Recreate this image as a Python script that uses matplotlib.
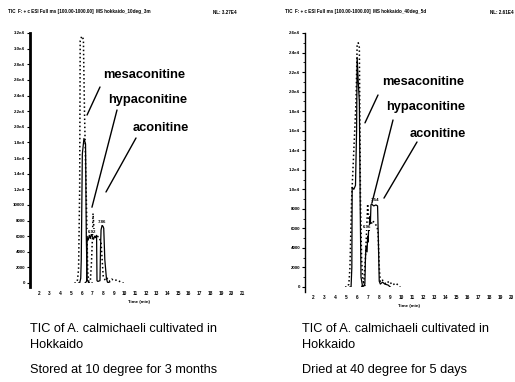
import matplotlib
matplotlib.use('Agg')
import matplotlib.pyplot as plt

plt.rcParams['font.family'] = ['Liberation Sans', 'DejaVu Sans']

W, H = 515, 382

# ---- left chromatogram (stored at 10 degree for 3 months) ----
left_dot1_t = [5.3, 5.45, 5.6, 5.7, 5.8, 5.85, 6.0, 6.15, 6.25, 6.45, 6.55, 6.65, 7.0]
left_dot1_v = [0, 0, 400, 1800, 12000, 31000, 31600, 31200, 22000, 9000, 1500, 200, 0]
left_sol1_t = [5.7, 5.8, 5.9, 5.95, 6.05, 6.2, 6.35, 6.42, 6.5, 6.7]
left_sol1_v = [0, 0, 600, 3000, 16500, 18500, 17800, 6000, 400, 0]
left_dot2_t = [6.6, 6.8, 6.9, 7.0, 7.05, 7.1, 7.15, 7.2, 7.3, 7.4, 7.6, 7.8, 8.0, 8.2,
               8.4, 8.6, 8.8, 9.0, 9.3, 9.6, 9.9]
left_dot2_v = [0, 300, 2500, 6000, 8900, 7800, 6500, 6200, 5800, 6000, 5900, 5200, 900, 300,
               600, 200, 500, 300, 400, 150, 0]
left_sol2_t = [6.3, 6.45, 6.5, 6.6, 6.7, 6.8, 6.9, 7.0, 7.1, 7.2, 7.3, 7.38, 7.42, 7.5,
               7.7, 7.75, 7.8, 7.9, 8.0, 8.05, 8.15, 8.3, 8.4, 8.6]
left_sol2_v = [0, 200, 5800, 5500, 6100, 5700, 6300, 5900, 5600, 6000, 5800, 6100, 300, 200,
               300, 4500, 6800, 7400, 7200, 7000, 3000, 600, 100, 0]
left_rt_labels = [(6.92, 6300, '6.92'), (7.93, 7500, '7.86')]

# ---- right chromatogram (dried at 40 degree for 5 days) ----
right_dot1_t = [4.9, 5.1, 5.25, 5.35, 5.5, 5.7, 5.9, 6.0, 6.1, 6.2, 6.3, 6.4, 6.5, 6.6, 6.8]
right_dot1_v = [0, 0, 300, 2000, 9000, 14000, 19000, 24800, 25000, 24500, 9000, 3000, 900, 300, 0]
right_sol1_t = [5.35, 5.45, 5.52, 5.55, 5.7, 5.85, 5.95, 6.0, 6.1, 6.2, 6.28, 6.35, 6.5]
right_sol1_v = [0, 0, 2000, 10200, 10000, 10400, 16000, 23500, 21000, 19000, 8000, 1000, 0]
right_dot2_t = [6.4, 6.6, 6.75, 6.85, 6.95, 7.05, 7.2, 7.4, 7.6, 7.8, 7.9, 8.0, 8.1, 8.3,
                8.6, 8.9, 9.2, 9.5, 9.9]
right_dot2_v = [0, 400, 3000, 5500, 8500, 7000, 6200, 6800, 6500, 6200, 5500, 2000, 500, 700,
                300, 600, 200, 400, 0]
right_sol2_t = [6.5, 6.7, 6.75, 6.8, 6.9, 6.95, 7.0, 7.05, 7.1, 7.15, 7.2, 7.25, 7.3, 7.5,
                7.7, 7.85, 7.9, 8.0, 8.1, 8.3, 8.5, 8.8, 9.0]
right_sol2_v = [0, 300, 2800, 4200, 3600, 5200, 4600, 6300, 5800, 7200, 6500, 8400, 8500, 8300,
                8400, 8300, 5900, 600, 300, 500, 300, 200, 0]
right_rt_labels = [(6.93, 5900, '6.96'), (7.6, 8700, '7.54')]

left_yticks = list(range(0, 32001, 2000))
left_ylabels = ['0', '2000', '4000', '6000', '8000', '10000', '1.2e4', '1.4e4', '1.6e4',
                '1.8e4', '2.0e4', '2.2e4', '2.4e4', '2.6e4', '2.8e4', '3.0e4', '3.2e4']
right_yticks = list(range(0, 26001, 2000))
right_ylabels = ['0', '2000', '4000', '6000', '8000', '1.0e4', '1.2e4', '1.4e4', '1.6e4',
                 '1.8e4', '2.0e4', '2.2e4', '2.4e4', '2.6e4']
left_xticks = list(range(2, 22))
right_xticks = list(range(2, 21))

compounds = ['mesaconitine', 'hypaconitine', 'aconitine']
# (tip time, tip intensity) of the leader lines
left_tips = [(6.49, 21500), (6.95, 9700), (8.26, 11650)]
right_tips = [(6.71, 16800), (7.34, 8600), (8.43, 9100)]

captions_left = ['TIC of A. calmichaeli cultivated in', 'Hokkaido', 'Stored at 10 degree for 3 months']
captions_right = ['TIC of A. calmichaeli cultivated in', 'Hokkaido', 'Dried at 40 degree for 5 days']
header_left = ['TIC  F: + c ESI Full ms [100.00-1000.00]  MS hokkaido_10deg_3m', 'NL: 3.27E4']
header_right = ['TIC  F: + c ESI Full ms [100.00-1000.00]  MS hokkaido_40deg_5d', 'NL: 2.61E4']


def px_axes(fig, x0, y0, x1, y1):
    # image pixel box (top-left origin) -> figure fraction
    return fig.add_axes([x0 / W, 1 - y1 / H, (x1 - x0) / W, (y1 - y0) / H])


def draw_panel(ax, traces, yticks, ylabels, xticks, xlim, ylim, spine_lw, minor):
    for t, v, ls in traces:
        ax.plot(t, v, color='black', lw=0.9 if ls == '-' else 1.1, linestyle=ls)
    ax.set_xlim(*xlim)
    ax.set_ylim(*ylim)
    for s in ['top', 'right', 'bottom']:
        ax.spines[s].set_visible(False)
    ax.spines['left'].set_linewidth(spine_lw)
    ax.spines['left'].set_bounds(-500, ylim[1])
    ax.set_yticks(yticks)
    ax.set_yticklabels(ylabels, fontsize=3.2, fontweight='bold')
    ax.set_xticks(xticks)
    ax.set_xticklabels([str(x) for x in xticks], fontsize=3.4, fontweight='bold')
    ax.tick_params(axis='y', length=2, width=0.8, pad=1.5)
    ax.tick_params(axis='x', length=0, pad=6)
    if minor:
        ax.set_yticks([y + 1000 for y in yticks[:-1]], minor=True)
        ax.tick_params(axis='y', which='minor', length=1.5, width=0.6)
    ax.set_xlabel('Time (min)', fontsize=3.2, fontweight='bold', labelpad=3)
    ax.patch.set_alpha(0)


fig = plt.figure(figsize=(W / 100, H / 100), dpi=100)

axL = px_axes(fig, 30, 33, 248, 283)
draw_panel(axL, [(left_dot1_t, left_dot1_v, ':'), (left_sol1_t, left_sol1_v, '-'),
                 (left_dot2_t, left_dot2_v, ':'), (left_sol2_t, left_sol2_v, '-')],
           left_yticks, left_ylabels, left_xticks, (1.16, 21.53), (0, 32000), 2.0, False)

axR = px_axes(fig, 305, 33, 514, 287)
draw_panel(axR, [(right_dot1_t, right_dot1_v, ':'), (right_sol1_t, right_sol1_v, '-'),
                 (right_dot2_t, right_dot2_v, ':'), (right_sol2_t, right_sol2_v, '-')],
           right_yticks, right_ylabels, right_xticks, (1.28, 20.2), (0, 26000), 1.0, True)

for ax, labels in [(axL, left_rt_labels), (axR, right_rt_labels)]:
    for t, v, s in labels:
        ax.text(t, v, s, fontsize=3.2, fontweight='bold', ha='center', va='bottom',
                bbox=dict(facecolor='white', edgecolor='none', pad=0.3))

# compound labels with leader lines (text positions in image pixels)
left_text_pos = [(103, 75), (108, 100), (133, 128)]
left_line_start = [(100, 87), (117, 110), (136, 138)]
right_text_pos = [(382, 82), (386, 107), (410, 134)]
right_line_start = [(378, 95), (393, 120), (417, 142)]

for ax, tips, tpos, lstart in [(axL, left_tips, left_text_pos, left_line_start),
                               (axR, right_tips, right_text_pos, right_line_start)]:
    for name, tip, (tx, ty), (lx, ly) in zip(compounds, tips, tpos, lstart):
        fig.text(tx / W, 1 - ty / H, name, fontsize=9.3, fontweight='bold', va='center')
        ax.annotate('', xy=tip, xycoords='data', xytext=(lx, H - ly),
                    textcoords='figure pixels',
                    arrowprops=dict(arrowstyle='-', color='black', lw=1.0,
                                    shrinkA=0, shrinkB=0))

# captions
for x0, caps in [(30, captions_left), (302, captions_right)]:
    for cap, y in zip(caps, [329, 345, 370]):
        fig.text(x0 / W, 1 - y / H, cap, fontsize=9.2, va='center')

# scan header lines
for (x0, x1), hdr in [((8, 213), header_left), ((285, 490), header_right)]:
    fig.text(x0 / W, 1 - 12 / H, hdr[0], fontsize=3.3, fontweight='bold', va='center')
    fig.text(x1 / W, 1 - 12 / H, hdr[1], fontsize=3.3, fontweight='bold', va='center')

fig.savefig('out.png', dpi=100)
